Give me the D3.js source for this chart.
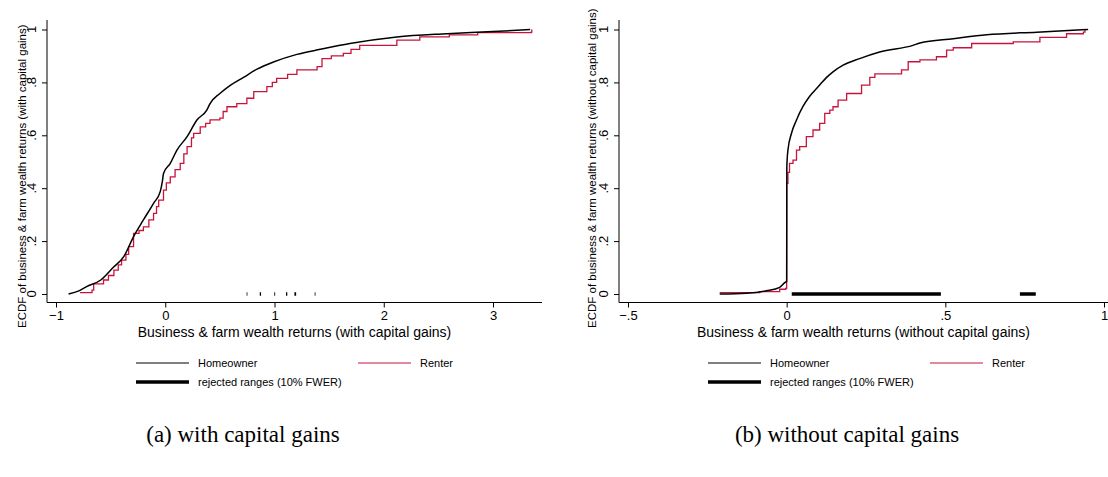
<!DOCTYPE html>
<meta charset="utf-8">
<script src="https://d3js.org/d3.v7.min.js"></script>
<style>
  body { margin: 0; background: #fff; }
  text { font-family: "Liberation Sans", Arial, sans-serif; }
</style>
<body>
<script>

// DATA

var yTicks = [0, 0.2, 0.4, 0.6, 0.8, 1];
var yTickLabels = ["0", ".2", ".4", ".6", ".8", "1"];

var leftXTicks = [-1, 0, 1, 2, 3];
var leftXTickLabels = ["\u22121", "0", "1", "2", "3"];
var rightXTicks = [-0.5, 0, 0.5, 1];
var rightXTickLabels = ["\u2212.5", "0", ".5", "1"];

// panel (a): with capital gains
var leftHomeowner = [
  [-0.885, 0], [-0.79, 0.012], [-0.72, 0.028], [-0.59, 0.053], [-0.47, 0.103],
  [-0.38, 0.141], [-0.29, 0.217], [-0.20, 0.28], [-0.107, 0.343], [-0.046, 0.387],
  [-0.025, 0.43], [-0.016, 0.456], [0.046, 0.494], [0.107, 0.544], [0.20, 0.595],
  [0.29, 0.658], [0.38, 0.695], [0.41, 0.72], [0.50, 0.758], [0.595, 0.789],
  [0.72, 0.82], [0.84, 0.85], [0.99, 0.877], [1.205, 0.906], [1.42, 0.925],
  [1.69, 0.947], [2.12, 0.972], [2.58, 0.984], [3.0, 0.992], [3.34, 1.0]
];
var leftRenter = [
  [-0.78, 0.005], [-0.67, 0.015], [-0.655, 0.038], [-0.565, 0.053], [-0.52, 0.07],
  [-0.47, 0.09], [-0.43, 0.11], [-0.40, 0.128], [-0.36, 0.15], [-0.335, 0.179],
  [-0.29, 0.229], [-0.24, 0.24], [-0.2, 0.254], [-0.15, 0.28], [-0.107, 0.305],
  [-0.08, 0.33], [-0.06, 0.355], [-0.016, 0.393], [0.01, 0.42], [0.046, 0.443],
  [0.09, 0.47], [0.137, 0.494], [0.17, 0.53], [0.2, 0.557], [0.24, 0.59],
  [0.26, 0.607], [0.32, 0.632], [0.37, 0.645], [0.41, 0.658], [0.5, 0.665],
  [0.53, 0.69], [0.565, 0.708], [0.655, 0.72], [0.747, 0.74], [0.81, 0.765],
  [0.93, 0.784], [0.98, 0.8], [1.02, 0.815], [1.12, 0.83], [1.205, 0.847],
  [1.39, 0.86], [1.435, 0.89], [1.52, 0.9], [1.63, 0.91], [1.7, 0.925],
  [1.78, 0.94], [2.12, 0.96], [2.33, 0.972], [2.6, 0.98], [2.86, 0.988],
  [3.35, 0.99], [3.355, 1.0]
];
var leftRejected = [
  [0.745, 0.752], [0.865, 0.877], [0.998, 1.006], [1.105, 1.117], [1.182, 1.198], [1.368, 1.375]
];

// panel (b): without capital gains
var rightHomeowner = [
  [-0.211, 0], [-0.127, 0.003], [-0.064, 0.012], [-0.022, 0.025], [-0.006, 0.043],
  [0, 0.048], [0.0005, 0.48], [0.004, 0.544], [0.015, 0.607], [0.031, 0.658],
  [0.051, 0.708], [0.068, 0.74], [0.085, 0.765], [0.104, 0.79], [0.125, 0.818],
  [0.146, 0.84], [0.178, 0.865], [0.23, 0.89], [0.293, 0.915], [0.398, 0.94],
  [0.42, 0.949], [0.525, 0.965], [0.63, 0.98], [0.788, 0.99], [0.95, 1.0]
];
var rightRenter = [
  [-0.211, 0.005], [-0.085, 0.009], [-0.022, 0.018], [-0.003, 0.021], [0, 0.418],
  [0.004, 0.46], [0.009, 0.494], [0.02, 0.506], [0.031, 0.544], [0.041, 0.557],
  [0.062, 0.595], [0.083, 0.62], [0.104, 0.645], [0.12, 0.683], [0.136, 0.695],
  [0.146, 0.708], [0.162, 0.733], [0.189, 0.758], [0.236, 0.79], [0.262, 0.819],
  [0.278, 0.832], [0.362, 0.847], [0.383, 0.878], [0.42, 0.885], [0.472, 0.897],
  [0.504, 0.922], [0.525, 0.931], [0.583, 0.947], [0.714, 0.953], [0.798, 0.97],
  [0.882, 0.984], [0.935, 0.99], [0.94, 1.0]
];
var rightRejected = [[0.016, 0.486], [0.735, 0.785]];

var seriesNames = ["Homeowner", "Renter", "rejected ranges (10% FWER)"];
var captions = ["(a) with capital gains", "(b) without capital gains"];

var homeColor = "#000000";
var renterColor = "#c8143c";

var width = 1108;
var height = 477;

var svg = d3.select("body").append("svg")
  .attr("width", width)
  .attr("height", height);

var yScale = d3.scaleLinear().domain([0, 1]).range([294, 29.5]);

var panels = [
  {
    axisX: 47, axisEnd: 542,
    x: d3.scaleLinear().domain([-1, 3]).range([56, 493]),
    xTicks: leftXTicks, xLabels: leftXTickLabels,
    home: leftHomeowner, renter: leftRenter, rejected: leftRejected,
    xTitle: "Business & farm wealth returns (with capital gains)",
    yTitle: "ECDF of business & farm wealth returns (with capital gains)",
    yTitleX: 26,
    legendX: 136, renterX: 358,
    caption: captions[0], captionX: 243
  },
  {
    axisX: 619, axisEnd: 1110,
    x: d3.scaleLinear().domain([-0.5, 1]).range([628, 1104]),
    xTicks: rightXTicks, xLabels: rightXTickLabels,
    home: rightHomeowner, renter: rightRenter, rejected: rightRejected,
    xTitle: "Business & farm wealth returns (without capital gains)",
    yTitle: "ECDF of business & farm wealth returns (without capital gains)",
    yTitleX: 596,
    legendX: 708, renterX: 930,
    caption: captions[1], captionX: 847
  }
];

panels.forEach(function(p) {
  var g = svg.append("g");
  var axisY = 302.5;

  // axis lines
  g.append("line")
    .attr("x1", p.axisX).attr("x2", p.axisX)
    .attr("y1", 20).attr("y2", axisY)
    .attr("stroke", "#000").attr("stroke-width", 1);
  g.append("line")
    .attr("x1", p.axisX).attr("x2", p.axisEnd)
    .attr("y1", axisY).attr("y2", axisY)
    .attr("stroke", "#000").attr("stroke-width", 1);

  // x axis
  var xAxis = g.append("g")
    .attr("transform", "translate(0," + axisY + ")")
    .call(d3.axisBottom(p.x).tickValues(p.xTicks).tickSize(5).tickPadding(3)
      .tickFormat(function(d, i) { return p.xLabels[i]; }));
  xAxis.select(".domain").remove();
  xAxis.selectAll("text").style("font-size", "13px").attr("fill", "#000")
    .style("font-family", "'Liberation Sans', Arial, sans-serif");

  // y axis, labels rotated
  var yAxis = g.append("g")
    .attr("transform", "translate(" + p.axisX + ",0)")
    .call(d3.axisLeft(yScale).tickValues(yTicks).tickSize(5).tickFormat(""));
  yAxis.select(".domain").remove();
  g.selectAll(".ylab")
    .data(yTicks)
    .enter().append("text")
    .attr("class", "ylab")
    .attr("transform", function(d) { return "translate(" + (p.axisX - 11) + "," + yScale(d) + ") rotate(-90)"; })
    .attr("text-anchor", "middle")
    .style("font-size", "13px")
    .text(function(d, i) { return yTickLabels[i]; });

  // axis titles
  g.append("text")
    .attr("x", (p.axisX + Math.min(p.axisEnd, 1108)) / 2)
    .attr("y", 337)
    .attr("text-anchor", "middle")
    .style("font-size", "14px")
    .text(p.xTitle);

  g.append("text")
    .attr("transform", "translate(" + p.yTitleX + ",328) rotate(-90)")
    .attr("text-anchor", "start")
    .style("font-size", "11.5px")
    .text(p.yTitle);

  // rejected ranges
  g.selectAll(".rej")
    .data(p.rejected)
    .enter().append("line")
    .attr("class", "rej")
    .attr("x1", function(d) { return p.x(d[0]); })
    .attr("x2", function(d) { return p.x(d[1]); })
    .attr("y1", yScale(0)).attr("y2", yScale(0))
    .attr("stroke", "#000").attr("stroke-width", 3.5);

  // ECDF lines
  var homeLine = d3.line()
    .x(function(d) { return p.x(d[0]); })
    .y(function(d) { return yScale(d[1]); })
    .curve(d3.curveMonotoneX);
  var renterLine = d3.line()
    .x(function(d) { return p.x(d[0]); })
    .y(function(d) { return yScale(d[1]); })
    .curve(d3.curveStepAfter);

  g.append("path")
    .datum(p.renter)
    .attr("d", renterLine)
    .attr("fill", "none")
    .attr("stroke", renterColor)
    .attr("stroke-width", 1.3);

  g.append("path")
    .datum(p.home)
    .attr("d", homeLine)
    .attr("fill", "none")
    .attr("stroke", homeColor)
    .attr("stroke-width", 1.5)
    .attr("stroke-linejoin", "round");

  // legend
  var lg = g.append("g");
  lg.append("line")
    .attr("x1", p.legendX).attr("x2", p.legendX + 53)
    .attr("y1", 363).attr("y2", 363)
    .attr("stroke", homeColor).attr("stroke-width", 1.2);
  lg.append("text")
    .attr("x", p.legendX + 62).attr("y", 367)
    .style("font-size", "11px")
    .text(seriesNames[0]);
  lg.append("line")
    .attr("x1", p.renterX).attr("x2", p.renterX + 53)
    .attr("y1", 363).attr("y2", 363)
    .attr("stroke", renterColor).attr("stroke-width", 1.2);
  lg.append("text")
    .attr("x", p.renterX + 62).attr("y", 367)
    .style("font-size", "11px")
    .text(seriesNames[1]);
  lg.append("line")
    .attr("x1", p.legendX).attr("x2", p.legendX + 53)
    .attr("y1", 382).attr("y2", 382)
    .attr("stroke", "#000").attr("stroke-width", 3.5);
  lg.append("text")
    .attr("x", p.legendX + 62).attr("y", 386)
    .style("font-size", "11px")
    .text(seriesNames[2]);

  // caption
  g.append("text")
    .attr("x", p.captionX)
    .attr("y", 442)
    .attr("text-anchor", "middle")
    .style("font-family", "'Liberation Serif', serif")
    .style("font-size", "23px")
    .text(p.caption);
});

</script>
